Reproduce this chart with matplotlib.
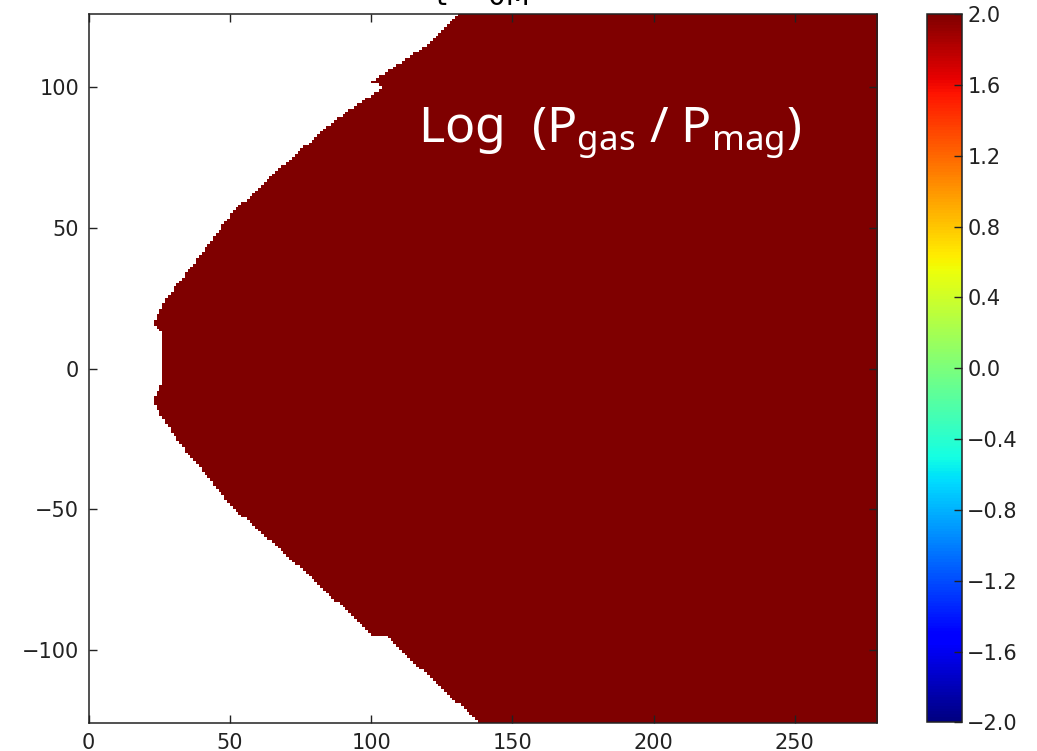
import numpy as np
import matplotlib
matplotlib.use('Agg')
import matplotlib.pyplot as plt
from matplotlib.path import Path

# outer edge of the magnetized region (x, y in M), traced top to bottom
edge_y = [126, 117, 101.7, 100.2, 88.2, 71.6, 55, 36.1, 30, 24.2, 16, 12.4,
          -5.3, -7.7, -11.3, -17.1, -27.8, -37.4, -49.3, -64.9, -81.4,
          -95.6, -95, -105.1, -115.8, -126]
edge_x = [130.5, 122, 99.6, 104.2, 86.6, 67.7, 50, 35.9, 31.1, 26.4, 22.3, 25.2,
          25.2, 24, 22.3, 25.2, 32.3, 40.6, 50, 67.7, 85.4,
          100.7, 104.2, 114.9, 126.7, 137.3]

# log10(Pgas/Pmag) inside the region (saturates the colour scale)
log_beta_inside = 2.0

x_range = [0, 279]
y_range = [-126, 126]
x_ticks = [0, 50, 100, 150, 200, 250]
y_ticks = [-100, -50, 0, 50, 100]
cb_ticks = [-2.0, -1.6, -1.2, -0.8, -0.4, 0.0, 0.4, 0.8, 1.2, 1.6, 2.0]
cb_labels = ['\u22122.0', '\u22121.6', '\u22121.2', '\u22120.8', '\u22120.4',
             '0.0', '0.4', '0.8', '1.2', '1.6', '2.0']

# grid of cells, roughly the simulation resolution
nx, ny = 280, 252
xc = np.linspace(x_range[0], x_range[1], nx)
yc = np.linspace(y_range[0], y_range[1], ny)
XX, YY = np.meshgrid(xc, yc)

poly = list(zip(edge_x, edge_y)) + [(x_range[1] + 5, y_range[0] - 5),
                                    (x_range[1] + 5, y_range[1] + 5)]
inside = Path(poly).contains_points(np.c_[XX.ravel(), YY.ravel()]).reshape(XX.shape)
field = np.ma.masked_where(~inside, np.full(XX.shape, log_beta_inside))

plt.rcParams['font.size'] = 15
fig = plt.figure(figsize=(10.37, 7.51), dpi=100)
ax = fig.add_axes([0.0855, 0.0369, 0.760, 0.9445])
im = ax.imshow(field, origin='lower', cmap='jet', vmin=-2, vmax=2,
               extent=[x_range[0], x_range[1], y_range[0], y_range[1]],
               interpolation='nearest', aspect='auto')
ax.set_xlim(x_range)
ax.set_ylim(y_range)
ax.set_xticks(x_ticks)
ax.set_yticks(y_ticks)
ax.tick_params(direction='in', length=6, width=1, top=True, right=True,
               pad=7, colors='#222222', labelcolor='#222222')
for s in ax.spines.values():
    s.set_linewidth(1.1)
    s.set_color('#222222')

ax.set_title('t = 0M', fontsize=20, pad=6.5)

ax.text(116.5, 80.5, r'Log  (P$_\mathregular{gas}$ / P$_\mathregular{mag}$)',
        color='white', fontsize=36, family='Noto Sans', va='baseline')

cax = fig.add_axes([0.8936, 0.0381, 0.0338, 0.9432])
cb = fig.colorbar(im, cax=cax)
cb.set_ticks(cb_ticks)
cb.set_ticklabels(cb_labels)
cb.ax.tick_params(direction='in', length=6, width=1, pad=4, colors='#222222')
cb.outline.set_linewidth(1.1)
cb.outline.set_edgecolor('#222222')

fig.savefig('out.png', dpi=100)
